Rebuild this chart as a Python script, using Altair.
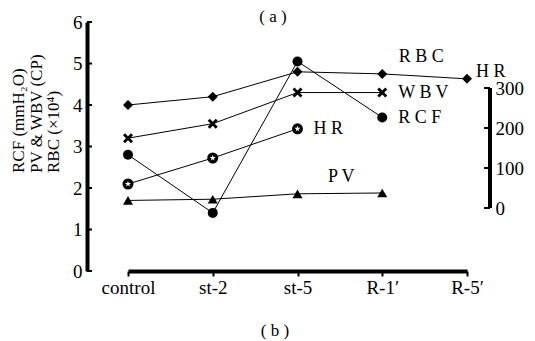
import altair as alt
import pandas as pd

categories = ["control", "st-2", "st-5", "R-1′", "R-5′"]
rbc = [4.0, 4.2, 4.8, 4.75, 4.63]
wbv = [3.2, 3.55, 4.3, 4.3]
rcf = [2.8, 1.4, 5.05, 3.7]
pv = [1.7, 1.73, 1.86, 1.88]
hr = [60, 125, 198]
left_ticks = [0, 1, 2, 3, 4, 5, 6]
hr_ticks = [0, 100, 200, 300]
series_names = ["RBC", "WBV", "RCF", "PV"]
ytitle_lines = ["RCF (mmH₂O)", "PV & WBV (CP)", "RBC (×10⁴)"]

rows = []
for name, vals in zip(series_names, [rbc, wbv, rcf, pv]):
    for c, v in zip(categories, vals):
        rows.append({"series": name, "cat": c, "value": v})
left_df = pd.DataFrame(rows)
hr_df = pd.DataFrame({"cat": categories[:len(hr)], "hr": hr})
lt_df = pd.DataFrame({"value": left_ticks})
ht_df = pd.DataFrame({"hr": hr_ticks})
spine_df = pd.DataFrame({"hr": [hr_ticks[0]], "hr2": [hr_ticks[-1]]})

W, H = 339, 249
FONT = "Liberation Serif"
FS = 17
AFS = 19
LFS = 18

XPATH = ("M-1,-0.6L-0.6,-1L0,-0.4L0.6,-1L1,-0.6L0.4,0L1,0.6L0.6,1L0,0.4"
         "L-0.6,1L-1,0.6L-0.4,0Z")
STAR = ("M0,-1L0.2245,-0.309L0.951,-0.309L0.363,0.118L0.588,0.809L0,0.382"
        "L-0.588,0.809L-0.363,0.118L-0.951,-0.309L-0.2245,-0.309Z")

x_enc = alt.X(
    "cat:N", sort=categories,
    scale=alt.Scale(type="point", padding=0, domain=categories),
    axis=alt.Axis(title=None, domainWidth=4, domainColor="black",
                  tickColor="black", tickWidth=2, tickSize=5,
                  labelFont=FONT, labelFontSize=AFS, labelColor="black",
                  labelPadding=2, labelAngle=0, grid=False),
)
y_enc = alt.Y(
    "value:Q", scale=alt.Scale(domain=[0, 6], nice=False, zero=False),
    axis=alt.Axis(title=None, values=left_ticks, offset=41, domainWidth=4,
                  domainColor="black", ticks=False, labelFont=FONT,
                  labelFontSize=AFS, labelColor="black", labelPadding=5,
                  grid=False),
)
hr_y = alt.Y(
    "hr:Q", scale=alt.Scale(domain=[-157.5, 465], nice=False, zero=False),
    axis=alt.Axis(title=None, orient="right", values=hr_ticks, offset=23,
                  domain=False, ticks=False, labelFont=FONT,
                  labelFontSize=AFS, labelColor="black", labelPadding=5,
                  grid=False),
)

base = alt.Chart(left_df)

lines = base.mark_line(color="black", strokeWidth=1).encode(
    x=x_enc, y=y_enc, detail="series:N")
points = base.mark_point(filled=True, color="black", opacity=1, size=100).encode(
    x=x_enc, y=y_enc,
    shape=alt.Shape("series:N", scale=alt.Scale(
        domain=series_names, range=["diamond", XPATH, "circle", "triangle-up"]),
        legend=None))
lticks = alt.Chart(lt_df).mark_rule(color="black", strokeWidth=2).encode(
    y=y_enc, x=alt.value(-41), x2=alt.value(-36))


def label(series, cat, text, dx, dy, align="left"):
    return base.transform_filter(
        (alt.datum.series == series) & (alt.datum.cat == cat)
    ).mark_text(text=text, dx=dx, dy=dy, align=align, baseline="middle",
                font=FONT, fontSize=LFS, color="black").encode(x=x_enc, y=y_enc)


labels = [
    label("RBC", "R-1′", "R B C", 39, -17, "center"),
    label("RBC", "R-5′", "H R", 9, -7),
    label("WBV", "R-1′", "W B V", 16, 0),
    label("RCF", "R-1′", "R C F", 16, 1),
    label("PV", "R-1′", "P V", -41, -16, "center"),
]

title_layers = []
for i, (t, xv) in enumerate(zip(ytitle_lines, [-109, -91.5, -74])):
    title_layers.append(
        alt.Chart(pd.DataFrame({"t": [t]})).mark_text(
            angle=270, align="left", baseline="middle", font=FONT,
            fontSize=FS, color="black").encode(
            text="t:N", x=alt.value(xv), y=alt.value(151)))

panel_a = alt.Chart(pd.DataFrame({"t": ["( a )"]})).mark_text(
    font=FONT, fontSize=FS, color="black").encode(
    text="t:N", x=alt.value(145), y=alt.value(-5))
panel_b = alt.Chart(pd.DataFrame({"t": ["( b )"]})).mark_text(
    font=FONT, fontSize=FS, color="black").encode(
    text="t:N", x=alt.value(147), y=alt.value(309))

left_layer = alt.layer(lines, points, lticks, *labels, *title_layers,
                       panel_a, panel_b)

hbase = alt.Chart(hr_df)
hr_line = hbase.mark_line(color="black", strokeWidth=1).encode(x=x_enc, y=hr_y)
hr_pt = hbase.mark_point(filled=True, color="black", opacity=1, size=121,
                         shape="circle").encode(x=x_enc, y=hr_y)
hr_star = hbase.mark_point(filled=True, color="white", opacity=1, size=42,
                           shape=STAR).encode(x=x_enc, y=hr_y)
hr_lab = hbase.transform_filter(alt.datum.cat == "st-5").mark_text(
    text="H R", dx=16, align="left", baseline="middle", font=FONT,
    fontSize=LFS, color="black").encode(x=x_enc, y=hr_y)
spine = alt.Chart(spine_df).mark_rule(color="black", strokeWidth=4).encode(
    x=alt.value(W + 23), y=hr_y, y2="hr2:Q")
rticks = alt.Chart(ht_df).mark_rule(color="black", strokeWidth=2).encode(
    y=hr_y, x=alt.value(W + 17), x2=alt.value(W + 23))

hr_layer = alt.layer(hr_line, hr_pt, hr_star, hr_lab, spine, rticks)

chart = alt.layer(left_layer, hr_layer).resolve_scale(y="independent").properties(
    width=W, height=H,
    padding={"left": 128, "top": 22, "right": 68, "bottom": 70},
    autosize=alt.AutoSizeParams(type="none"),
    background="white",
).configure_view(stroke=None).configure_axis(
    labelFont=FONT, labelFontSize=AFS, labelColor="black"
).configure_text(font=FONT)

chart.save("out.html", embed_options={"renderer": "svg", "actions": False})
